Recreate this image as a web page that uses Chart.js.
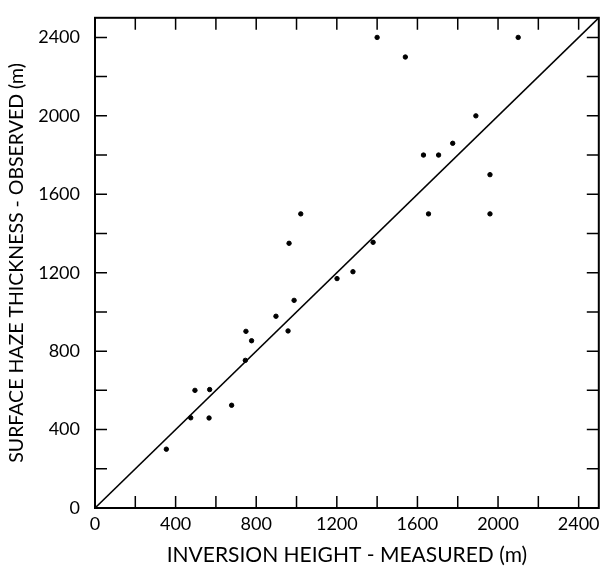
<!DOCTYPE html>
<html>
<head>
<meta charset="utf-8">
<script src="https://cdn.jsdelivr.net/npm/chart.js@4/dist/chart.umd.min.js"></script>
<style>
  html, body { margin: 0; padding: 0; background: #fff; }
  #wrap { width: 602px; height: 572px; }
</style>
</head>
<body>
<div id="wrap"><canvas id="hazeChart"></canvas></div>
<script>
// inversion height measured (x) vs surface haze thickness observed (y), metres
const inversionHeight = [354, 475, 496, 566, 569, 678, 746, 749, 777, 898, 958, 963, 988, 1021,
  1201, 1280, 1380, 1400, 1540, 1630, 1655, 1705, 1775, 1890, 1960, 1960, 2100];
const hazeThickness = [300, 460, 600, 459, 604, 524, 753, 901, 853, 978, 903, 1350, 1059, 1500,
  1170, 1205, 1355, 2400, 2300, 1800, 1500, 1800, 1860, 2000, 1700, 1500, 2400];
const oneToOne = [0, 2500];
const labelTicks = [0, 400, 800, 1200, 1600, 2000, 2400];
const markTicks = [200, 400, 600, 800, 1000, 1200, 1400, 1600, 1800, 2000, 2200, 2400];

const FONT = 'Lato, "DejaVu Sans", sans-serif';

const frameTicks = {
  id: 'frameTicks',
  afterDraw(chart) {
    const { ctx, chartArea: a, scales } = chart;
    const len = 12;
    ctx.save();
    ctx.strokeStyle = '#000';
    ctx.lineWidth = 2;
    ctx.strokeRect(a.left, a.top, a.right - a.left, a.bottom - a.top);
    ctx.lineWidth = 1.5;
    ctx.beginPath();
    markTicks.forEach(v => {
      const x = scales.x.getPixelForValue(v);
      ctx.moveTo(x, a.bottom); ctx.lineTo(x, a.bottom - len);
      ctx.moveTo(x, a.top); ctx.lineTo(x, a.top + len);
      const y = scales.y.getPixelForValue(v);
      ctx.moveTo(a.left, y); ctx.lineTo(a.left + len, y);
      ctx.moveTo(a.right, y); ctx.lineTo(a.right - len, y);
    });
    ctx.stroke();
    ctx.restore();
  }
};

new Chart(document.getElementById('hazeChart'), {
  type: 'scatter',
  data: {
    datasets: [
      {
        data: inversionHeight.map((x, i) => ({ x: x, y: hazeThickness[i] })),
        backgroundColor: '#000',
        borderColor: '#000',
        pointRadius: 2.2,
        pointHoverRadius: 2.2
      },
      {
        data: oneToOne.map(v => ({ x: v, y: v })),
        showLine: true,
        borderColor: '#000',
        borderWidth: 1.6,
        pointRadius: 0,
        fill: false
      }
    ]
  },
  options: {
    responsive: true,
    maintainAspectRatio: false,
    animation: false,
    layout: { padding: { top: 9, right: 1, left: 0, bottom: 0 } },
    plugins: { legend: { display: false }, tooltip: { enabled: false } },
    scales: {
      x: {
        type: 'linear',
        min: 0,
        max: 2500,
        afterBuildTicks: s => { s.ticks = labelTicks.map(v => ({ value: v })); },
        afterFit: s => { s.height = 64; },
        grid: { display: false },
        border: { display: false },
        ticks: { color: '#000', padding: -3, font: { family: FONT, size: 18 }, callback: v => String(v) },
        title: {
          display: true,
          text: 'INVERSION HEIGHT - MEASURED (m)',
          color: '#000',
          padding: { top: 6 },
          font: { family: FONT, size: 21 }
        }
      },
      y: {
        type: 'linear',
        min: 0,
        max: 2500,
        afterBuildTicks: s => { s.ticks = labelTicks.map(v => ({ value: v })); },
        afterFit: s => { s.width = 95; },
        grid: { display: false },
        border: { display: false },
        ticks: { color: '#000', padding: 7, font: { family: FONT, size: 18 }, callback: v => String(v) },
        title: {
          display: true,
          text: 'SURFACE HAZE THICKNESS - OBSERVED (m)',
          color: '#000',
          padding: { top: 5, bottom: 4 },
          font: { family: FONT, size: 19.5 }
        }
      }
    }
  },
  plugins: [frameTicks]
});
</script>
</body>
</html>
